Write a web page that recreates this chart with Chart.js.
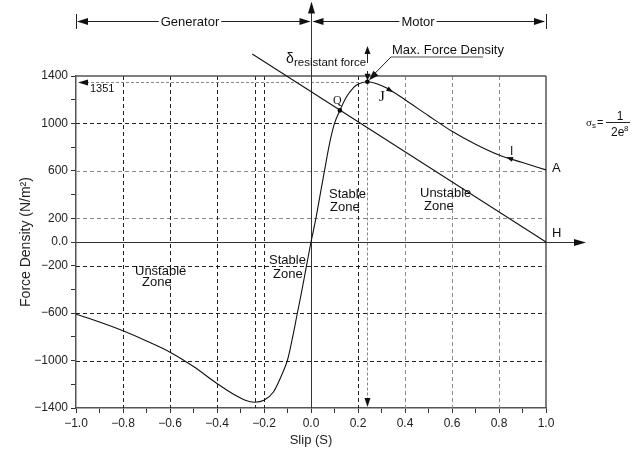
<!DOCTYPE html>
<html><head><meta charset="utf-8">
<script src="https://cdn.jsdelivr.net/npm/chart.js@4.4.1/dist/chart.umd.min.js"></script>
<style>html,body{margin:0;padding:0;background:#fff;}canvas{display:block;}</style>
</head><body>
<canvas id="c" width="642" height="450"></canvas>
<script>
// ---- data ----
const slip  = [-1.0, -0.9, -0.8, -0.7, -0.6, -0.5, -0.4, -0.32, -0.28, -0.24, -0.2, -0.16, -0.12, -0.1, -0.08, -0.06, -0.04, -0.02, 0,
               0.02, 0.04, 0.06, 0.08, 0.1, 0.123, 0.15, 0.18, 0.2, 0.24, 0.28, 0.32, 0.4, 0.5, 0.6, 0.7, 0.8, 0.9, 1.0];
const force = [-609, -675, -749, -835, -929, -1050, -1193, -1295, -1335, -1351, -1335, -1265, -1100, -995, -820, -620, -420, -210, 0,
               190, 410, 630, 840, 1000, 1110, 1220, 1300, 1330, 1351, 1335, 1300, 1200, 1065, 934, 825, 734, 670, 608];
const resistSlip  = [-0.25, 1.0];
const resistForce = [1585, 0];
const markSlip  = [0.123, 0.24];
const markForce = [1110, 1351];
const maxSlip = 0.24, maxForce = 1351;
const xTickValues = [-1.0,-0.9,-0.8,-0.7,-0.6,-0.5,-0.4,-0.3,-0.2,-0.1,0,0.1,0.2,0.3,0.4,0.5,0.6,0.7,0.8,0.9,1.0];
const xTickLabels = ['\u22121.0','','\u22120.8','','\u22120.6','','\u22120.4','','\u22120.2','','0.0','','0.2','','0.4','','0.6','','0.8','','1.0'];
const yTickValues = [-1400,-1200,-1000,-800,-600,-400,-200,0,200,400,600,800,1000,1200,1400];
const yTickLabels = ['\u22121400','','\u22121000','','\u2212600','','\u2212200','0.0','200','','600','','1000','','1400'];
const yGridValues = [1000, 600, 200, -200, -600, -1000];
const xGridValues = [-0.8, -0.6, -0.4, -0.24, -0.2, 0.2, 0.4, 0.6, 0.8];

const FONT = '"Liberation Sans", Arial, Helvetica, sans-serif';
const SERIF = '"Liberation Serif", "Times New Roman", serif';

function fAt(s){
  for(let i=0;i<slip.length-1;i++){
    if(s>=slip[i] && s<=slip[i+1]){const t=(s-slip[i])/(slip[i+1]-slip[i]);return force[i]+t*(force[i+1]-force[i]);}
  }
  return 0;
}
function head(ctx,x,y,ang,len,half){
  ctx.save();ctx.translate(x,y);ctx.rotate(ang);
  ctx.beginPath();ctx.moveTo(0,0);ctx.lineTo(-len,-half);ctx.lineTo(-len,half);ctx.closePath();ctx.fill();ctx.restore();
}
function seg(ctx,x1,y1,x2,y2){ctx.beginPath();ctx.moveTo(x1,y1);ctx.lineTo(x2,y2);ctx.stroke();}

const deco = {
  id:'deco',
  beforeDatasetsDraw(chart){
    const {ctx, chartArea:a, scales:{x,y}} = chart;
    ctx.save();
    ctx.lineWidth = 1;
    ctx.setLineDash([4,3]);
    const darkY = [1000,-600,-1000,-200];
    yGridValues.forEach(v=>{
      const p = Math.round(y.getPixelForValue(v))+0.5;
      ctx.strokeStyle = darkY.includes(v) ? '#222' : '#8a8a8a';
      seg(ctx,a.left,p,a.right,p);
    });
    xGridValues.forEach(v=>{
      const p = Math.round(x.getPixelForValue(v))+0.5;
      ctx.strokeStyle = v<0.3 ? '#222' : '#8a8a8a';
      seg(ctx,p,a.top,p,a.bottom);
    });
    // 1351 reference lines
    ctx.setLineDash([3,2]);
    ctx.strokeStyle = '#888';
    const pm = Math.round(y.getPixelForValue(maxForce))+0.5;
    const xm = Math.round(x.getPixelForValue(maxSlip))+0.5;
    seg(ctx,a.left+10,pm,xm,pm);
    seg(ctx,xm,pm,xm,a.bottom-7);
    ctx.setLineDash([]);
    // frame
    ctx.strokeStyle = '#555'; ctx.lineWidth = 1.5;
    seg(ctx,a.left,a.top,a.right,a.top);
    seg(ctx,a.right,a.top,a.right,a.bottom);
    // zero axes
    ctx.strokeStyle = '#333'; ctx.fillStyle='#111'; ctx.lineWidth = 1;
    const y0 = Math.round(y.getPixelForValue(0))+0.5;
    const x0 = Math.round(x.getPixelForValue(0))+0.5;
    seg(ctx,a.left,y0,a.right+30,y0);
    head(ctx,a.right+40,y0,0,12,3.5);
    seg(ctx,x0,a.bottom,x0,12);
    head(ctx,x0,1.5,-Math.PI/2,12,3.5);
    ctx.restore();
  },
  afterDatasetsDraw(chart){
    const {ctx, chartArea:a, scales:{x,y}} = chart;
    ctx.save();
    ctx.fillStyle='#111'; ctx.strokeStyle='#222'; ctx.lineWidth=1;
    const x0 = Math.round(x.getPixelForValue(0))+0.5;
    const xm = Math.round(x.getPixelForValue(maxSlip))+0.5;
    const ym = y.getPixelForValue(maxForce);
    // Generator / Motor dimension line
    const yd = 21.5;
    seg(ctx,a.left+0.5,14,a.left+0.5,29);
    seg(ctx,a.right+0.5,14,a.right+0.5,29);
    seg(ctx,a.left+2,yd,x0-2,yd);
    seg(ctx,x0+2,yd,a.right-2,yd);
    head(ctx,a.left+1,yd,Math.PI,11,3.5);
    head(ctx,x0-1,yd,0,11,3.5);
    head(ctx,x0+1,yd,Math.PI,11,3.5);
    head(ctx,a.right-1,yd,0,11,3.5);
    ctx.font = '13px '+FONT; ctx.textBaseline='middle'; ctx.textAlign='center';
    [['Generator',190],['Motor',418]].forEach(([t,cx])=>{
      const w = ctx.measureText(t).width;
      ctx.fillStyle='#fff'; ctx.fillRect(cx-w/2-2,yd-6,w+4,12);
      ctx.fillStyle='#111'; ctx.fillText(t,cx,yd+0.5);
    });
    // 1351 arrow + label
    head(ctx,a.left+2,Math.round(ym)+0.5,Math.PI,10,3);
    ctx.font='11px '+FONT; ctx.textAlign='left'; ctx.textBaseline='alphabetic';
    ctx.fillText('1351',90,92);
    // bottom arrow at max slip
    head(ctx,xm,a.bottom-1,Math.PI/2,9,3);
    // delta arrows
    seg(ctx,xm,63,xm,53); head(ctx,xm,46,-Math.PI/2,8,3);
    seg(ctx,xm,71,xm,75); head(ctx,xm,ym-1,Math.PI/2,7,3);
    ctx.font='14px '+FONT; ctx.fillText('\u03B4',286,63);
    ctx.font='11.5px '+FONT; ctx.fillText('resistant force',294,66);
    // Max force density
    const sx=391, sy=57, tx=xm+1.5, ty=ym-1.5;
    seg(ctx,sx,sy,tx+4,ty-5);
    head(ctx,tx,ty,Math.atan2(ty-sy,tx-sx),10,3.5);
    ctx.strokeStyle='#888'; ctx.lineWidth=1.3; seg(ctx,sx,sy,483,sy);
    ctx.fillStyle='#111';
    ctx.font='13px '+FONT; ctx.fillText('Max. Force Density',392,54);
    // curve labels
    ctx.font='12px '+SERIF; ctx.fillText('Q',333,104);
    ctx.font='15px '+SERIF; ctx.fillText('J',379,101);
    ctx.font='12px '+FONT; ctx.fillText('I',510,155);
    // small arrows on curve
    const arrOn=(s,dir)=>{
      const px=x.getPixelForValue(s), py=y.getPixelForValue(fAt(s));
      const px2=x.getPixelForValue(s-dir*0.02), py2=y.getPixelForValue(fAt(s-dir*0.02));
      head(ctx,px,py,Math.atan2(py-py2,px-px2),7,2.5);
    };
    arrOn(0.35,1); arrOn(0.83,-1);
    // A / H
    ctx.font='13px '+FONT;
    ctx.fillText('A',552,172); ctx.fillText('H',552,237);
    // zones
    ctx.fillText('Stable',329,198); ctx.fillText('Zone',330,211);
    ctx.fillText('Unstable',420,197); ctx.fillText('Zone',424,210);
    ctx.fillText('Stable',269,264); ctx.fillText('Zone',273,278);
    ctx.fillText('Unstable',135,275); ctx.fillText('Zone',142,286);
    // sigma formula
    ctx.font='11px '+SERIF; ctx.fillText('\u03C3',586,126);
    ctx.font='8px '+FONT; ctx.fillText('s',592,128);
    ctx.font='11px '+FONT; ctx.fillText('=',597,126);
    ctx.strokeStyle='#222'; ctx.lineWidth=1; seg(ctx,606,122.5,630,122.5);
    ctx.font='12px '+FONT; ctx.textAlign='center'; ctx.fillText('1',620,120);
    ctx.textAlign='left'; ctx.fillText('2e',611,136);
    ctx.font='8px '+FONT; ctx.fillText('8',624,131);
    ctx.restore();
  }
};

new Chart(document.getElementById('c'),{
  type:'scatter',
  data:{datasets:[
    {data:slip.map((s,i)=>({x:s,y:force[i]})),showLine:true,borderColor:'#111',borderWidth:1.1,pointRadius:0,cubicInterpolationMode:'monotone',fill:false},
    {data:resistSlip.map((s,i)=>({x:s,y:resistForce[i]})),showLine:true,borderColor:'#111',borderWidth:1.1,pointRadius:0,clip:false,fill:false},
    {data:markSlip.map((s,i)=>({x:s,y:markForce[i]})),showLine:false,pointRadius:2.3,pointBackgroundColor:'#000',pointBorderWidth:0,clip:false}
  ]},
  options:{
    responsive:false, animation:false, devicePixelRatio:1,
    layout:{padding:{top:76,right:96,left:0,bottom:0}},
    plugins:{legend:{display:false},tooltip:{enabled:false}},
    scales:{
      x:{type:'linear',min:-1,max:1,
        afterBuildTicks:s=>{s.ticks=xTickValues.map(v=>({value:v}));},
        afterFit:s=>{s.height=42;},
        ticks:{autoSkip:false,maxRotation:0,padding:3,color:'#222',font:{family:FONT,size:12},callback:(v,i)=>xTickLabels[i]},
        grid:{drawOnChartArea:false,drawTicks:true,tickLength:5,tickColor:'#333',tickWidth:1},
        border:{display:true,color:'#555',width:1.5},
        title:{display:true,text:'Slip (S)',color:'#222',font:{family:FONT,size:13},padding:{top:0,bottom:2}}
      },
      y:{type:'linear',min:-1400,max:1400,
        afterBuildTicks:s=>{s.ticks=yTickValues.map(v=>({value:v}));},
        afterFit:s=>{s.width=76;},
        ticks:{autoSkip:false,padding:3,color:'#222',font:{family:FONT,size:12},callback:(v,i)=>yTickLabels[i]},
        grid:{drawOnChartArea:false,drawTicks:true,tickLength:5,tickColor:'#333',tickWidth:1},
        border:{display:true,color:'#555',width:1.5},
        title:{display:true,text:'Force Density (N/m\u00B2)',color:'#222',font:{family:FONT,size:14},padding:{top:18,bottom:0}}
      }
    }
  },
  plugins:[deco]
});
</script>
</body></html>
